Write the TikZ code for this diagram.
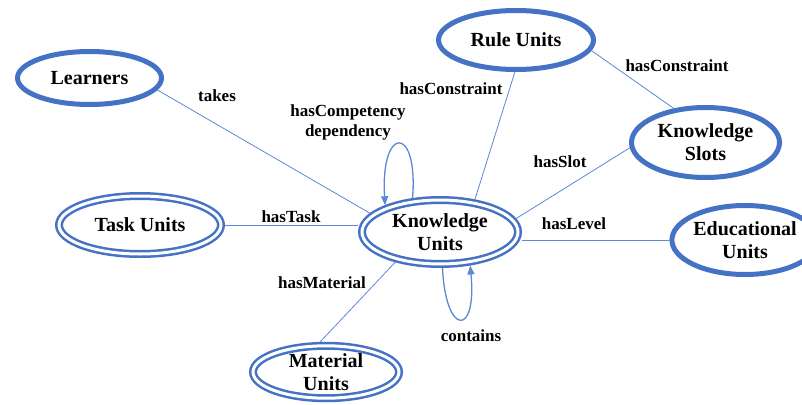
\documentclass[tikz,border=0pt]{standalone}
\usepackage{fontspec}
\setmainfont{Liberation Serif}
\usetikzlibrary{arrows.meta,shapes.geometric}
\definecolor{ublue}{RGB}{68,114,196}
\definecolor{eblue}{RGB}{92,136,212}

\begin{document}
\begin{tikzpicture}[x=1pt,y=-1pt,
  nodefont/.style={font=\fontsize{20}{23}\selectfont\bfseries},
  unit/.style={ellipse, draw=ublue, line width=5pt, inner sep=0pt,
    outer sep=2.5pt, align=center, nodefont},
  dunit/.style={ellipse, draw=ublue, line width=2.5pt, double=white,
    double distance=3pt, inner sep=0pt, outer sep=4pt, align=center, nodefont},
  rel/.style={draw=eblue, line width=0.8pt},
  selfrel/.style={draw=eblue, line width=1.3pt,
    -{Triangle[length=9pt,width=7pt]}},
  lbl/.style={font=\fontsize{17}{20}\selectfont\bfseries, inner sep=0pt,
    align=center}
]
\fill[white] (0,0) rectangle (802,404);
\useasboundingbox (0,0) rectangle (802,404);

% concept nodes
\node[unit, minimum width=144pt, minimum height=53pt] (L) at (89.5,78) {Learners};
\node[unit, minimum width=155pt, minimum height=59pt] (R) at (516,40) {Rule Units};
\node[unit, minimum width=148pt, minimum height=70pt] (KS) at (705.5,142.5) {Knowledge\\Slots};
\node[unit, minimum width=145pt, minimum height=69pt] (E) at (745,240) {Educational\\Units};
\node[dunit, minimum width=156pt, minimum height=64pt] (KU) at (440,232) {Knowledge\\Units};
\node[dunit, minimum width=162pt, minimum height=58pt] (T) at (140,225) {Task Units};
\node[dunit, minimum width=146pt, minimum height=52pt] (M) at (326,372) {Material\\Units};

% relations
\draw[rel] (L.-10) -- (KU.165);
\draw[rel] (R.268) -- (KU.43);
\draw[rel] (R.-8) -- (KS.133);
\draw[rel] (KS.184) -- (KU.10);
\draw[rel] (T.east) -- (T.east -| KU.west);
\draw[rel] (KU.east |- E.west) -- (E.west);
\draw[rel] (KU.214) -- (M.101);

% self relations
\draw[selfrel] (KU.129) .. controls +(6,-74) and +(-5,-80) .. (KU.154);
\draw[selfrel] (KU.274) .. controls +(3,68) and +(7,72) .. (KU.312);

% relation labels
\node[lbl] (ltakes) at (217,96) {takes};
\node[lbl] (ldep) at (348,122) {hasCompetency\\dependency};
\node[lbl] (lcon1) at (451,89) {hasConstraint};
\node[lbl] (lcon2) at (677,66) {hasConstraint};
\node[lbl] (lslot) at (560,162) {hasSlot};
\node[lbl] (ltask) at (291,217) {hasTask};
\node[lbl] (llevel) at (574,224) {hasLevel};
\node[lbl] (lmat) at (322,283) {hasMaterial};
\node[lbl] (lcont) at (471,336) {contains};
\end{tikzpicture}
\end{document}
